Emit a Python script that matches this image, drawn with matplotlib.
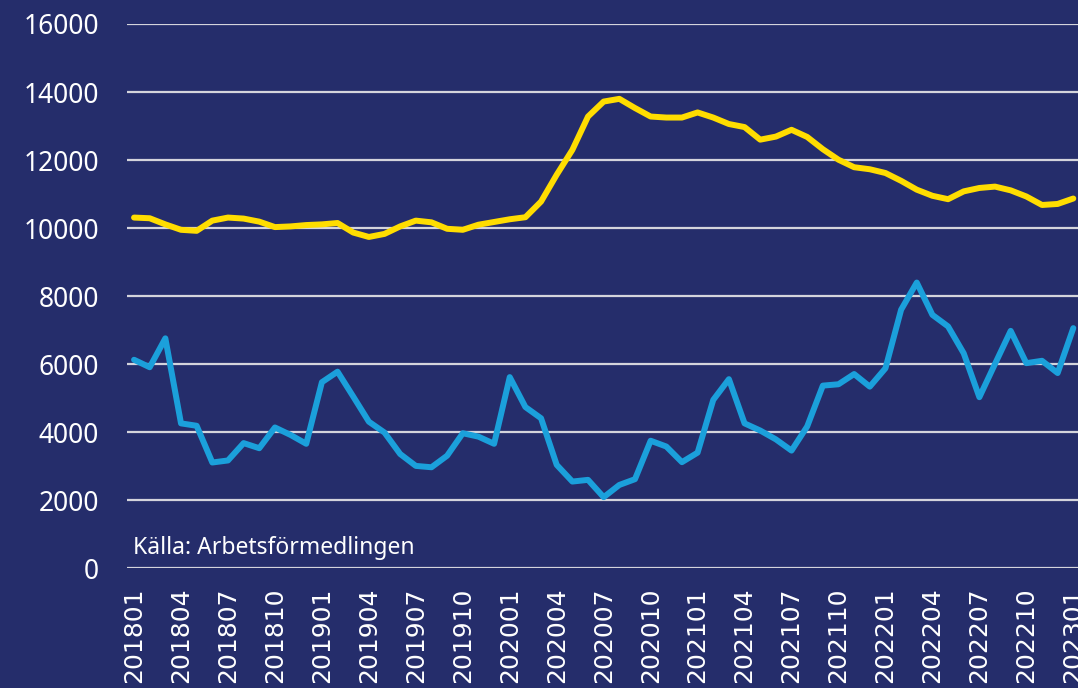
"""Linjediagram: två serier per månad, 201801-202301."""
import matplotlib

matplotlib.use("Agg")
import matplotlib.pyplot as plt

BG = "#252d6b"
YELLOW = "#ffdd00"
BLUE = "#1ba0db"
GRID = "#d4d4dc"

months = [f"{y}{m:02d}" for y in range(2018, 2023) for m in range(1, 13)] + ["202301"]

yellow_vals = [
    10310, 10290, 10110, 9950, 9920, 10220, 10310, 10280, 10190, 10030,
    10050, 10090, 10110, 10150, 9870, 9740, 9830, 10050, 10220, 10170,
    9980, 9950, 10100, 10180, 10260, 10320, 10780, 11570, 12300, 13280,
    13720, 13800, 13530, 13280, 13250, 13250, 13400, 13250, 13060, 12970,
    12600, 12690, 12890, 12680, 12320, 12010, 11790, 11730, 11620, 11390,
    11130, 10950, 10850, 11080, 11180, 11220, 11110, 10930, 10680, 10710,
    10870,
]

blue_vals = [
    6130, 5910, 6760, 4260, 4190, 3110, 3170, 3680, 3530, 4140,
    3920, 3660, 5470, 5780, 5050, 4310, 3990, 3360, 3010, 2970,
    3310, 3970, 3870, 3660, 5620, 4740, 4410, 3040, 2550, 2600,
    2090, 2450, 2620, 3750, 3580, 3120, 3400, 4950, 5560, 4260,
    4050, 3790, 3460, 4170, 5370, 5410, 5710, 5340, 5880, 7600,
    8400, 7450, 7110, 6320, 5030, 6010, 6980, 6030, 6100, 5740,
    7060,
]

source_text = "Källa: Arbetsförmedlingen"
y_ticks = list(range(0, 16001, 2000))

fig = plt.figure(figsize=(10.78, 6.88), dpi=100, facecolor=BG)
ax = fig.add_axes([127 / 1078, (688 - 568.3) / 688, (1078 - 127) / 1078, (568.3 - 24) / 688])
ax.set_facecolor(BG)

x = list(range(len(months)))
ax.plot(x, yellow_vals, color=YELLOW, lw=4.3, solid_joinstyle="round", solid_capstyle="round", zorder=3)
ax.plot(x, blue_vals, color=BLUE, lw=4.3, solid_joinstyle="round", solid_capstyle="round", zorder=3)

ax.set_xlim(-0.45, len(months) - 1 + 0.3)
ax.set_ylim(0, 16000)
ax.set_yticks(y_ticks)
ax.set_yticklabels([str(v) for v in y_ticks], fontsize=19, color="white", family="Noto Sans")
ax.yaxis.grid(True, color=GRID, lw=1.6)
ax.set_axisbelow(True)

# etiketter var tredje månad, de nedersta siffrorna klipps av figurkanten som i originalet
ax.set_xticks(x[::3])
ax.set_xticklabels(months[::3], rotation=90, fontsize=18, color="white", family="DejaVu Sans")
ax.tick_params(axis="both", length=0)
ax.tick_params(axis="x", pad=14)
ax.tick_params(axis="y", pad=20)

for s in ax.spines.values():
    s.set_visible(False)

ax.text(0.006, 0.037, source_text, transform=ax.transAxes, color="white",
        fontsize=16.5, family="Noto Sans", va="center", ha="left")

fig.savefig("out.png", dpi=100, facecolor=BG)
